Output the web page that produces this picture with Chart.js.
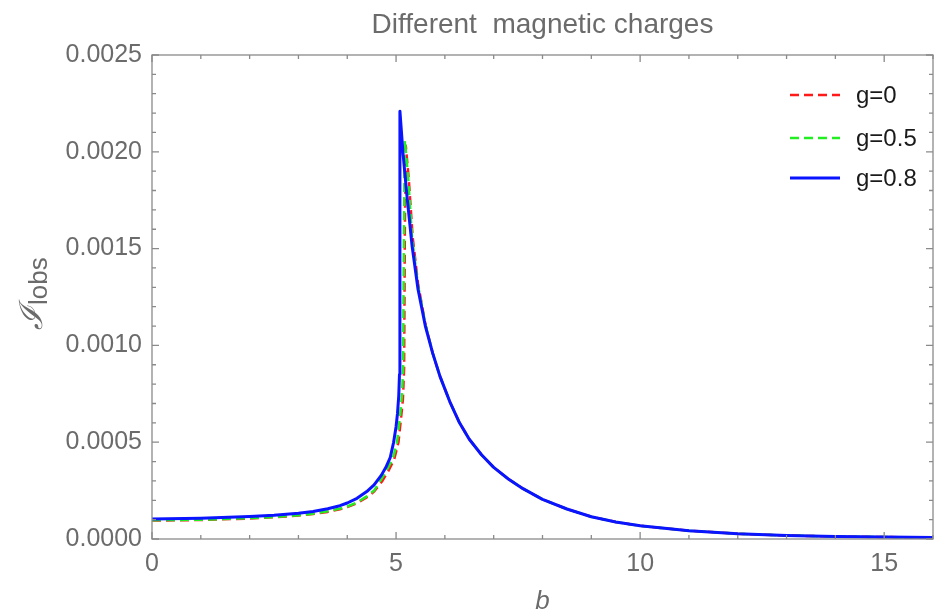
<!DOCTYPE html>
<html>
<head>
<meta charset="utf-8">
<title>Different magnetic charges</title>
<script src="https://cdn.jsdelivr.net/npm/chart.js@4.4.1/dist/chart.umd.min.js"></script>
<style>
  html, body { margin: 0; padding: 0; background: #fff; }
  #wrap { width: 940px; height: 614px; }
</style>
</head>
<body>
<div id="wrap"><canvas id="c" width="940" height="614"></canvas></div>
<script>
// Werte (b, I_lobs)
var bG0 = [0, 1, 2, 2.5, 3, 3.3, 3.6, 3.85, 4.0, 4.2, 4.4, 4.55, 4.72, 4.84, 4.96, 5.05, 5.1, 5.14, 5.165, 5.172, 5.18, 5.2,
           5.26, 5.34, 5.45, 5.6, 5.75, 5.9, 6.1, 6.3, 6.5, 6.75, 7.0, 7.3, 7.6, 8.0, 8.5, 9.0, 9.5, 10, 11, 12, 13, 14, 15, 16];
var iG0 = [0.000095, 0.000098, 0.000106, 0.000112, 0.000121, 0.000129, 0.00014, 0.000154, 0.000165, 0.000185, 0.000215, 0.000245, 0.0003, 0.00035, 0.00041, 0.0005, 0.00062, 0.00072, 0.00088, 0.0012, 0.0016, 0.00203,
           0.00186, 0.00156, 0.00132, 0.00111, 0.00096, 0.00084, 0.00071, 0.0006, 0.000515, 0.000435, 0.00037, 0.00031, 0.00026, 0.000205, 0.000155, 0.000115, 0.000088, 0.000068, 0.000043, 0.000027, 0.000018, 0.000013, 0.00001, 0.000008];

var bG05 = [0, 1, 2, 2.5, 3, 3.3, 3.6, 3.85, 4.0, 4.2, 4.4, 4.55, 4.7, 4.82, 4.94, 5.02, 5.08, 5.12, 5.145, 5.152, 5.162, 5.18,
            5.25, 5.33, 5.45, 5.6, 5.75, 5.9, 6.1, 6.3, 6.5, 6.75, 7.0, 7.3, 7.6, 8.0, 8.5, 9.0, 9.5, 10, 11, 12, 13, 14, 15, 16];
var iG05 = [0.000097, 0.0001, 0.000108, 0.000114, 0.000123, 0.000131, 0.000143, 0.000157, 0.000168, 0.000189, 0.00022, 0.00025, 0.00031, 0.00036, 0.00042, 0.0005, 0.00063, 0.00074, 0.00088, 0.0012, 0.0016, 0.00206,
            0.00186, 0.00155, 0.00131, 0.00111, 0.00096, 0.00084, 0.00071, 0.0006, 0.000515, 0.000435, 0.00037, 0.00031, 0.00026, 0.000205, 0.000155, 0.000115, 0.000088, 0.000068, 0.000043, 0.000027, 0.000018, 0.000013, 0.00001, 0.000008];

var bG08 = [0, 1, 2, 2.5, 3, 3.3, 3.6, 3.85, 4.0, 4.2, 4.4, 4.55, 4.7, 4.8, 4.88, 4.95, 5.0, 5.03, 5.055, 5.07, 5.078, 5.08,
            5.14, 5.22, 5.33, 5.45, 5.6, 5.75, 5.9, 6.1, 6.3, 6.5, 6.75, 7.0, 7.3, 7.6, 8.0, 8.5, 9.0, 9.5, 10, 11, 12, 13, 14, 15, 16];
var iG08 = [0.000103, 0.000107, 0.000116, 0.000123, 0.000133, 0.000142, 0.000156, 0.000172, 0.000186, 0.00021, 0.000245, 0.00028, 0.00033, 0.000375, 0.00042, 0.0005, 0.00058, 0.00065, 0.00074, 0.00085, 0.0011, 0.00221,
            0.002, 0.00178, 0.00151, 0.00129, 0.0011, 0.00096, 0.00084, 0.00071, 0.0006, 0.000515, 0.000435, 0.00037, 0.00031, 0.00026, 0.000205, 0.000155, 0.000115, 0.000088, 0.000068, 0.000043, 0.000027, 0.000018, 0.000013, 0.00001, 0.000008];

var seriesNames = ['g=0', 'g=0.5', 'g=0.8'];
var xTickLabels = [0, 5, 10, 15];
var yTickLabels = ['0.0000', '0.0005', '0.0010', '0.0015', '0.0020', '0.0025'];

function toPoints(bs, is) {
    return bs.map(function(b, k) { return { x: b, y: is[k] }; });
}

var grau = '#6b6b6b';

// Rahmen, Ticks nach innen, Titel und Legende
var dekor = {
    id: 'dekor',
    afterDraw: function(chart) {
        var ctx = chart.ctx, a = chart.chartArea;
        var xs = chart.scales.x, ys = chart.scales.y;
        ctx.save();
        ctx.strokeStyle = '#8a8a8a';
        ctx.lineWidth = 1.3;
        ctx.strokeRect(a.left, a.top, a.right - a.left, a.bottom - a.top);
        ctx.beginPath();
        for (var v = 0; v <= 16; v++) {
            var px = xs.getPixelForValue(v);
            var len = (v % 5 === 0) ? 7 : 4;
            ctx.moveTo(px, a.bottom); ctx.lineTo(px, a.bottom - len);
            ctx.moveTo(px, a.top); ctx.lineTo(px, a.top + len);
        }
        for (var k = 0; k <= 25; k++) {
            var py = ys.getPixelForValue(k * 0.0001);
            var l2 = (k % 5 === 0) ? 7 : 4;
            ctx.moveTo(a.left, py); ctx.lineTo(a.left + l2, py);
            ctx.moveTo(a.right, py); ctx.lineTo(a.right - l2, py);
        }
        ctx.stroke();

        // Titel
        ctx.fillStyle = grau;
        ctx.font = '28px "Liberation Sans", Arial, sans-serif';
        ctx.textAlign = 'center';
        ctx.textBaseline = 'alphabetic';
        ctx.fillText('Different  magnetic charges', (a.left + a.right) / 2, 33);

        // x-Achsentitel
        ctx.font = 'italic 26px "Liberation Sans", Arial, sans-serif';
        ctx.fillText('b', (a.left + a.right) / 2, 609);

        // y-Achsentitel, gedreht
        ctx.save();
        ctx.translate(42, 330);
        ctx.rotate(-Math.PI / 2);
        ctx.textAlign = 'left';
        ctx.font = 'italic 32px "DejaVu Serif", serif';
        ctx.fillText('\u2110', 0, 0);
        var w = ctx.measureText('\u2110').width;
        ctx.font = '26px "Liberation Sans", Arial, sans-serif';
        ctx.fillText('lobs', w + 1, 5);
        ctx.restore();

        // Legende
        var ly = [95, 138, 178];
        var ds = chart.data.datasets;
        ctx.textAlign = 'left';
        ctx.textBaseline = 'middle';
        ctx.font = '24px "Liberation Sans", Arial, sans-serif';
        for (var i = 0; i < ds.length; i++) {
            ctx.beginPath();
            ctx.strokeStyle = ds[i].borderColor;
            ctx.lineWidth = ds[i].borderWidth;
            ctx.setLineDash(ds[i].borderDash || []);
            ctx.moveTo(790, ly[i]); ctx.lineTo(840, ly[i]);
            ctx.stroke();
            ctx.setLineDash([]);
            ctx.fillStyle = '#1a1a1a';
            ctx.fillText(ds[i].label, 856, ly[i] + 1);
        }
        ctx.restore();
    }
};

var ctx = document.getElementById('c').getContext('2d');
var chart = new Chart(ctx, {
    type: 'line',
    data: {
        datasets: [{
            label: seriesNames[0],
            data: toPoints(bG0, iG0),
            borderColor: '#ff1a1a',
            borderWidth: 2.5,
            borderDash: [9, 5],
            order: 2
        }, {
            label: seriesNames[1],
            data: toPoints(bG05, iG05),
            borderColor: '#22ee22',
            borderWidth: 2.5,
            borderDash: [9, 5],
            order: 1
        }, {
            label: seriesNames[2],
            data: toPoints(bG08, iG08),
            borderColor: '#0a14ff',
            borderWidth: 3,
            order: 0
        }]
    },
    options: {
        responsive: false,
        animation: false,
        layout: { padding: { top: 55, right: 7, left: 0, bottom: 0 } },
        elements: {
            point: { radius: 0 },
            line: { tension: 0, fill: false, borderJoinStyle: 'round' }
        },
        plugins: {
            legend: { display: false },
            title: { display: false },
            tooltip: { enabled: false }
        },
        scales: {
            x: {
                type: 'linear',
                min: 0,
                max: 16,
                afterFit: function(s) { s.height = 75; },
                grid: { display: false, drawTicks: false },
                border: { display: false },
                afterBuildTicks: function(s) {
                    s.ticks = xTickLabels.map(function(v) { return { value: v }; });
                },
                ticks: {
                    padding: 10,
                    color: grau,
                    font: { family: '"Liberation Sans", Arial, sans-serif', size: 25 },
                    callback: function(v) { return String(v); }
                }
            },
            y: {
                type: 'linear',
                min: 0,
                max: 0.0025,
                afterFit: function(s) { s.width = 152; },
                grid: { display: false, drawTicks: false },
                border: { display: false },
                afterBuildTicks: function(s) {
                    s.ticks = yTickLabels.map(function(t) { return { value: parseFloat(t) }; });
                },
                ticks: {
                    padding: 10,
                    color: grau,
                    font: { family: '"Liberation Sans", Arial, sans-serif', size: 25 },
                    callback: function(v) { return v.toFixed(4); }
                }
            }
        }
    },
    plugins: [dekor]
});
</script>
</body>
</html>
